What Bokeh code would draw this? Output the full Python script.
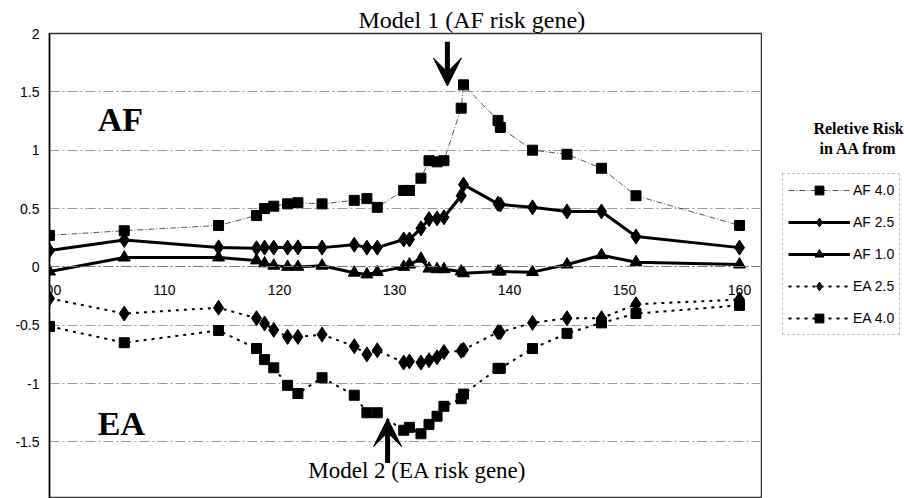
from bokeh.plotting import figure
from bokeh.layouts import row
from bokeh.models import (Range1d, FixedTicker, PrintfTickFormatter, Legend, LegendItem,
                          Label, Arrow, VeeHead)
from bokeh.embed import file_html
from bokeh.resources import INLINE

# ---- data ----
positions = [100, 106.5, 114.7, 118.0, 118.7, 119.5, 120.7, 121.6, 123.7, 126.5, 127.6,
             128.5, 130.8, 131.3, 132.3, 133.0, 133.7, 134.3, 135.8, 136.0, 139.0, 139.2,
             142.0, 145.0, 148.0, 151.0, 160.0]
af_40 = [0.27, 0.31, 0.355, 0.44, 0.50, 0.52, 0.54, 0.55, 0.54, 0.57, 0.585, 0.51, 0.655,
         0.655, 0.76, 0.91, 0.90, 0.91, 1.36, 1.56, 1.255, 1.195, 1.00, 0.965, 0.845, 0.61, 0.355]
af_25 = [0.14, 0.23, 0.167, 0.16, 0.165, 0.165, 0.165, 0.167, 0.165, 0.19, 0.165, 0.165, 0.235,
         0.235, 0.33, 0.41, 0.415, 0.425, 0.61, 0.705, 0.54, 0.535, 0.51, 0.475, 0.475, 0.26, 0.165]
af_10 = [-0.04, 0.08, 0.08, 0.055, 0.03, 0.01, 0.0, 0.0, 0.01, -0.05, -0.065, -0.045, 0.0,
         0.02, 0.07, -0.015, -0.02, -0.02, -0.04, -0.055, -0.04, -0.04, -0.045, 0.02, 0.10, 0.04, 0.02]
ea_25 = [-0.27, -0.40, -0.35, -0.44, -0.485, -0.54, -0.60, -0.60, -0.58, -0.68, -0.75, -0.715,
         -0.82, -0.81, -0.82, -0.80, -0.775, -0.73, -0.72, -0.71, -0.56, -0.56, -0.48, -0.44,
         -0.44, -0.32, -0.28]
ea_40 = [-0.51, -0.65, -0.545, -0.70, -0.795, -0.865, -1.015, -1.085, -0.95, -1.10, -1.25,
         -1.25, -1.40, -1.375, -1.43, -1.35, -1.28, -1.195, -1.13, -1.09, -0.87, -0.87, -0.70,
         -0.57, -0.48, -0.40, -0.33]
series_names = ["AF 4.0", "AF 2.5", "AF 1.0", "EA 2.5", "EA 4.0"]
series_values = [af_40, af_25, af_10, ea_25, ea_40]
y_ticks = [-2, -1.5, -1, -0.5, 0, 0.5, 1, 1.5, 2]
x_ticks = [100, 110, 120, 130, 140, 150, 160]
legend_title_lines = ["Reletive Risk", "in AA from"]

# ---- styles ----
styles = {
    "AF 4.0": dict(line_color="#555555", line_width=1, line_dash="6 2 1 2", marker="square", size=10),
    "AF 2.5": dict(line_color="black", line_width=3, line_dash="solid", marker="diamond", size=15),
    "AF 1.0": dict(line_color="black", line_width=3, line_dash="solid", marker="triangle", size=12),
    "EA 2.5": dict(line_color="black", line_width=2, line_dash="3 5", marker="diamond", size=15),
    "EA 4.0": dict(line_color="black", line_width=2, line_dash="3 5", marker="square", size=10),
}

p = figure(frame_width=713, frame_height=465, min_border_left=49, min_border_right=0,
           min_border_top=33, min_border_bottom=0,
           x_range=Range1d(100, 162), y_range=Range1d(-1.985, 2),
           output_backend="svg", toolbar_location=None,
           title="Model 1 (AF risk gene)")
p.background_fill_color = "white"
p.border_fill_color = "white"
p.outline_line_color = "#333333"
p.outline_line_width = 1.5

p.title.text_font = "Liberation Serif"
p.title.text_font_size = "24px"
p.title.text_font_style = "normal"
p.title.text_color = "black"
p.title.align = "left"
p.title.offset = 309
p.title.standoff = 2

p.xgrid.visible = False
p.ygrid.ticker = FixedTicker(ticks=y_ticks)
p.ygrid.grid_line_color = "#999999"
p.ygrid.grid_line_width = 1
p.ygrid.grid_line_dash = "10 3 2 3"

yax = p.yaxis[0]
yax.ticker = FixedTicker(ticks=y_ticks)
yax.formatter = PrintfTickFormatter(format="%g")
yax.major_tick_line_color = None
yax.minor_tick_line_color = None
yax.major_tick_out = 0
yax.major_label_standoff = 10
yax.axis_line_color = "black"
yax.axis_line_width = 1.5
yax.major_label_text_font = "Liberation Sans"
yax.major_label_text_font_size = "14px"
yax.major_label_text_color = "black"

xax = p.xaxis[0]
xax.fixed_location = 0
xax.ticker = FixedTicker(ticks=x_ticks)
xax.formatter = PrintfTickFormatter(format="%g")
xax.major_tick_line_color = None
xax.minor_tick_line_color = None
xax.major_tick_out = 0
xax.major_label_standoff = 18
xax.axis_line_color = "#777777"
xax.axis_line_width = 1
xax.axis_line_dash = "10 3 2 3"
xax.major_label_text_font = "Liberation Sans"
xax.major_label_text_font_size = "14px"
xax.major_label_text_color = "black"

# legend panel (separate figure)
lg = figure(width=142, height=498, x_range=Range1d(0, 142), y_range=Range1d(0, 498),
            min_border=0, output_backend="svg", toolbar_location=None, title=None)
lg.axis.visible = False
lg.grid.visible = False
lg.outline_line_color = None

nan = float("nan")
items = []
for name, vals in zip(series_names, series_values):
    st = styles[name]
    p.line(positions, vals, line_color=st["line_color"], line_width=st["line_width"],
           line_dash=st["line_dash"])
    p.scatter(positions, vals, marker=st["marker"], size=st["size"],
              fill_color="black", line_color="black")
    # legend proxies (a single NaN point, draws nothing in the panel)
    rl = lg.line([nan], [nan], line_color=st["line_color"], line_width=st["line_width"],
                 line_dash=st["line_dash"])
    rm = lg.scatter([nan], [nan], marker=st["marker"], size=st["size"],
                    fill_color="black", line_color="black")
    items.append(LegendItem(label=name, renderers=[rl, rm]))

legend = Legend(items=items, location=(20, 163), margin=0, padding=5,
                glyph_width=62, glyph_height=22, label_height=22, spacing=10,
                label_standoff=3, label_text_font="Liberation Sans",
                label_text_font_size="14px", label_text_color="black",
                border_line_color="#888888", border_line_dash="2 2",
                background_fill_alpha=0)
lg.add_layout(legend, "center")

for line_text, yy in zip(legend_title_lines, [396, 375]):
    lg.add_layout(Label(x=96, y=yy, text=line_text, text_align="center",
                        text_baseline="alphabetic", text_font="Liberation Serif",
                        text_font_style="bold", text_font_size="16px", text_color="black"))

# region labels
p.add_layout(Label(x=104.2, y=1.263, text="AF", text_baseline="alphabetic", text_color="black",
                   text_font="Liberation Serif", text_font_style="bold", text_font_size="34px"))
p.add_layout(Label(x=104.2, y=-1.341, text="EA", text_baseline="alphabetic", text_color="black",
                   text_font="Liberation Serif", text_font_style="bold", text_font_size="34px"))

# model 2 annotation and arrows
p.add_layout(Label(x=132.0, y=-1.744, text="Model 2 (EA risk gene)", text_align="center",
                   text_baseline="alphabetic", text_font="Liberation Serif",
                   text_font_size="23px", text_color="black"))
p.add_layout(Arrow(end=VeeHead(size=28, fill_color="black", line_color="black"),
                   x_start=134.6, y_start=1.93, x_end=134.6, y_end=1.55,
                   line_width=5, line_color="black"))
p.add_layout(Arrow(end=VeeHead(size=28, fill_color="black", line_color="black"),
                   x_start=129.4, y_start=-1.68, x_end=129.4, y_end=-1.30,
                   line_width=5, line_color="black"))

layout = row(p, lg)
open("out.html", "w").write(file_html(layout, INLINE))
